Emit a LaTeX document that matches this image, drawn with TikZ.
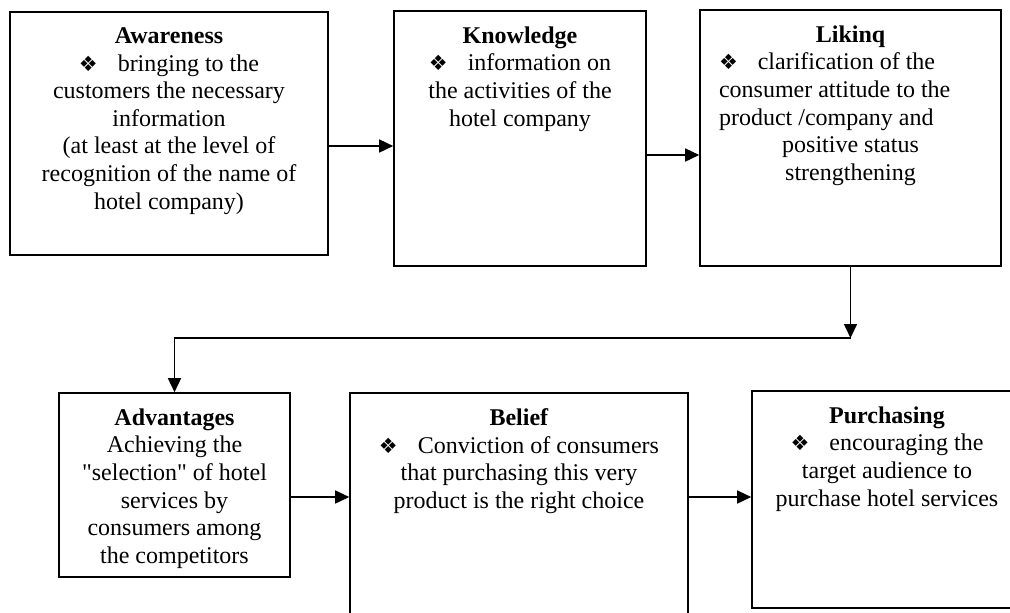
\documentclass[tikz,border=0pt]{standalone}
\usepackage{fontspec}
\setmainfont{Liberation Serif}
\newfontfamily\dingfont{DejaVu Sans}
\usetikzlibrary{arrows.meta}
\newcommand\bul{{\dingfont\fontsize{10.5}{10.5}\selectfont\char"2756}\hspace{10pt}}

\begin{document}
\begin{tikzpicture}[x=0.5pt,y=-0.5pt,
	box/.style={draw,line width=0.8pt,inner sep=0pt},
	txt/.style={anchor=north,yshift=-8pt,inner sep=0pt,align=center,font=\fontsize{12}{13.8}\selectfont},
	arr/.style={-{Triangle[length=7pt,width=6.5pt]},line width=0.75pt}]
		\useasboundingbox (0,0) rectangle (1010,612);
		\clip (0,0) rectangle (1010,612);
		\node[box,minimum width=159pt,minimum height=121.5pt] (aware) at (169,133.5) {};
		\node[box,minimum width=126pt,minimum height=127.5pt] (know) at (520,138.5) {};
		\node[box,minimum width=150.5pt,minimum height=128pt] (liking) at (850.5,138) {};
		\node[box,minimum width=115.5pt,minimum height=92pt] (adv) at (174.5,485) {};
		\node[box,minimum width=169pt,minimum height=123.5pt] (belief) at (519,516.5) {};
		\node[box,minimum width=135pt,minimum height=108.5pt] (purch) at (887,499.5) {};
		\node[txt] (aware-t) at (aware.north) {\textbf{Awareness}\\ \bul bringing to the\\ customers the necessary\\ information\\ (at least at the level of\\ recognition of the name of\\ hotel company)};
		\node[txt] (know-t) at (know.north) {\textbf{Knowledge}\\ \bul information on\\ the activities of the\\ hotel company};
		\node[txt,text width=131.5pt,align=none] (liking-t) at (liking.north) {{\centering\textbf{Likinq}\par}{\raggedright\bul clarification of the\\ consumer attitude to the\\ product /company and\par}{\centering positive status\\ strengthening\par}};
		\node[txt] (adv-t) at (adv.north) {\textbf{Advantages}\\ Achieving the\\ \textquotedbl selection\textquotedbl{} of hotel\\ services by\\ consumers among\\ the competitors};
		\node[txt] (belief-t) at (belief.north) {\textbf{Belief}\\ \bul Conviction of consumers\\ that purchasing this very\\ product is the right choice};
		\node[txt] (purch-t) at (purch.north) {\textbf{Purchasing}\\ \bul encouraging the\\ target audience to\\ purchase hotel services};
		\coordinate (a1) at ([yshift=-6.25pt]aware.east);
		\coordinate (k1) at ([yshift=-8.25pt]know.east);
		\coordinate (d1) at ([yshift=-6pt]adv.east);
		\coordinate (b1) at ([yshift=9.75pt]belief.east);
		\coordinate (turn) at (849,338);
		\draw[arr] (a1) -- (a1 -| know.west);
		\draw[arr] (k1) -- (k1 -| liking.west);
		\draw[arr] (liking.south) -- (liking.south |- turn);
		\draw[arr] (liking.south |- turn) -| (adv.north);
		\draw[arr] (d1) -- (d1 -| belief.west);
		\draw[arr] (b1) -- (b1 -| purch.west);
	\end{tikzpicture}
\end{document}
